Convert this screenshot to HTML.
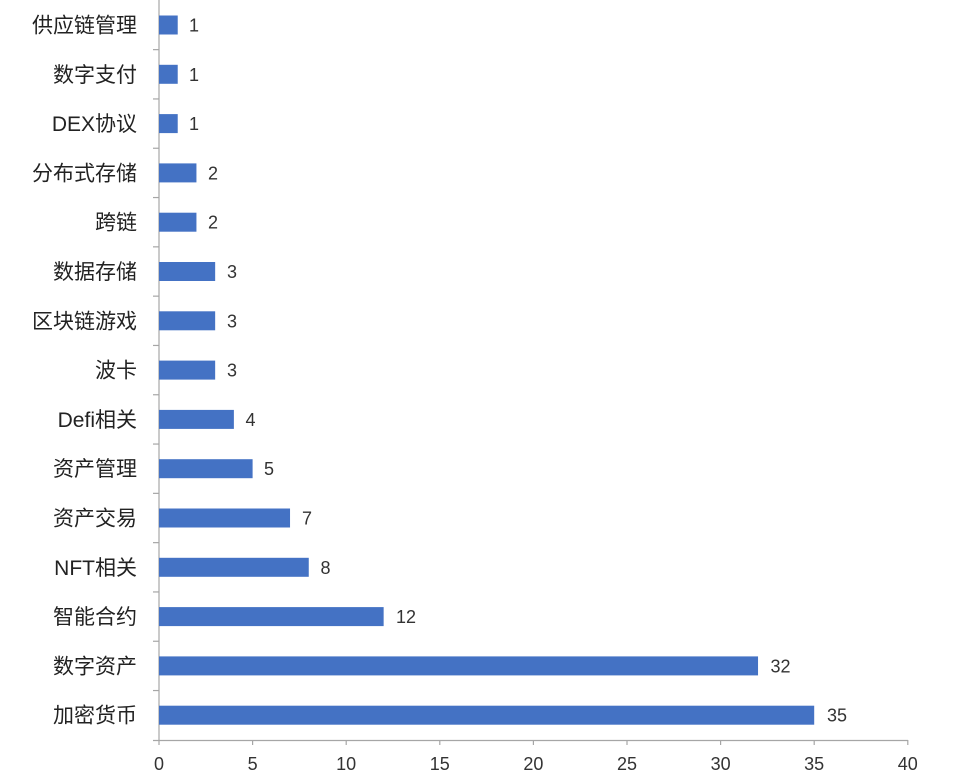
<!DOCTYPE html>
<html><head><meta charset="utf-8"><style>body{margin:0;background:#fff}svg{display:block}</style></head><body>
<svg width="978" height="782" xmlns="http://www.w3.org/2000/svg" font-family="Liberation Sans, Noto Sans CJK SC, sans-serif">
<g stroke="#a6a6a6" stroke-width="1.2">
<line x1="159" y1="0" x2="159" y2="741"/>
<line x1="153" y1="740.5" x2="908" y2="740.5"/>
<line x1="153" y1="49.65" x2="159" y2="49.65"/><line x1="153" y1="98.95" x2="159" y2="98.95"/><line x1="153" y1="148.25" x2="159" y2="148.25"/><line x1="153" y1="197.55" x2="159" y2="197.55"/><line x1="153" y1="246.85" x2="159" y2="246.85"/><line x1="153" y1="296.15" x2="159" y2="296.15"/><line x1="153" y1="345.45" x2="159" y2="345.45"/><line x1="153" y1="394.75" x2="159" y2="394.75"/><line x1="153" y1="444.05" x2="159" y2="444.05"/><line x1="153" y1="493.35" x2="159" y2="493.35"/><line x1="153" y1="542.65" x2="159" y2="542.65"/><line x1="153" y1="591.95" x2="159" y2="591.95"/><line x1="153" y1="641.25" x2="159" y2="641.25"/><line x1="153" y1="690.55" x2="159" y2="690.55"/>
<line x1="159" y1="740" x2="159" y2="745"/><line x1="252.6" y1="740" x2="252.6" y2="745"/><line x1="346.2" y1="740" x2="346.2" y2="745"/><line x1="439.8" y1="740" x2="439.8" y2="745"/><line x1="533.4" y1="740" x2="533.4" y2="745"/><line x1="627" y1="740" x2="627" y2="745"/><line x1="720.6" y1="740" x2="720.6" y2="745"/><line x1="814.2" y1="740" x2="814.2" y2="745"/><line x1="907.8" y1="740" x2="907.8" y2="745"/>
</g>
<g fill="#4472c4">
<rect x="159" y="15.5" width="18.72" height="19"/>
<rect x="159" y="64.8" width="18.72" height="19"/>
<rect x="159" y="114.1" width="18.72" height="19"/>
<rect x="159" y="163.4" width="37.44" height="19"/>
<rect x="159" y="212.7" width="37.44" height="19"/>
<rect x="159" y="262" width="56.16" height="19"/>
<rect x="159" y="311.3" width="56.16" height="19"/>
<rect x="159" y="360.6" width="56.16" height="19"/>
<rect x="159" y="409.9" width="74.88" height="19"/>
<rect x="159" y="459.2" width="93.6" height="19"/>
<rect x="159" y="508.5" width="131.04" height="19"/>
<rect x="159" y="557.8" width="149.76" height="19"/>
<rect x="159" y="607.1" width="224.64" height="19"/>
<rect x="159" y="656.4" width="599.04" height="19"/>
<rect x="159" y="705.7" width="655.2" height="19"/>
</g>
<g font-size="21" text-anchor="end" fill="#222">
<text x="137" y="32.5">供应链管理</text>
<text x="137" y="81.8">数字支付</text>
<text x="137" y="131.1">DEX协议</text>
<text x="137" y="180.4">分布式存储</text>
<text x="137" y="229.7">跨链</text>
<text x="137" y="279">数据存储</text>
<text x="137" y="328.3">区块链游戏</text>
<text x="137" y="377.6">波卡</text>
<text x="137" y="426.9">Defi相关</text>
<text x="137" y="476.2">资产管理</text>
<text x="137" y="525.5">资产交易</text>
<text x="137" y="574.8">NFT相关</text>
<text x="137" y="624.1">智能合约</text>
<text x="137" y="673.4">数字资产</text>
<text x="137" y="722.7">加密货币</text>
</g>
<g font-size="18" fill="#333">
<text x="189" y="31.5">1</text>
<text x="189" y="80.8">1</text>
<text x="189" y="130.1">1</text>
<text x="208" y="179.4">2</text>
<text x="208" y="228.7">2</text>
<text x="227" y="278">3</text>
<text x="227" y="327.3">3</text>
<text x="227" y="376.6">3</text>
<text x="245.5" y="425.9">4</text>
<text x="264" y="475.2">5</text>
<text x="302" y="524.5">7</text>
<text x="320.5" y="573.8">8</text>
<text x="396" y="623.1">12</text>
<text x="770.5" y="672.4">32</text>
<text x="827" y="721.7">35</text>
</g>
<g font-size="18" text-anchor="middle" fill="#333">
<text x="159" y="770">0</text><text x="252.6" y="770">5</text><text x="346.2" y="770">10</text><text x="439.8" y="770">15</text><text x="533.4" y="770">20</text><text x="627" y="770">25</text><text x="720.6" y="770">30</text><text x="814.2" y="770">35</text><text x="907.8" y="770">40</text>
</g>
</svg>
</body></html>
